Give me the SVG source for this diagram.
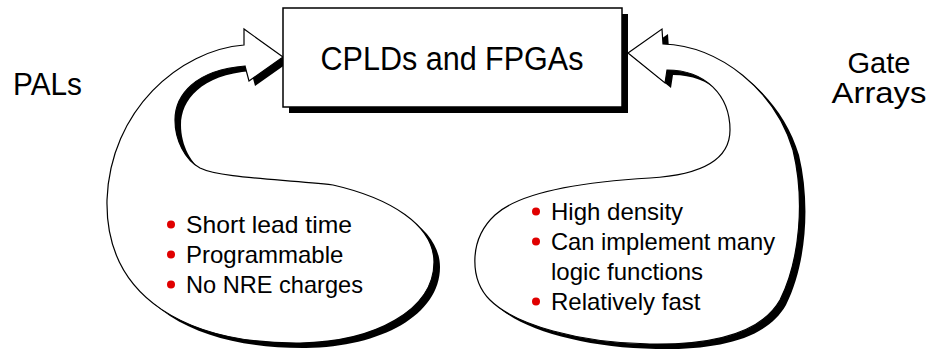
<svg xmlns="http://www.w3.org/2000/svg" width="928" height="351" viewBox="0 0 928 351">
<style>
  .lbl { font-family: "Liberation Sans", Arial, sans-serif; fill: #000; }
  .bul { font-family: "Liberation Sans", Arial, sans-serif; font-size: 24px; fill: #000; }
  .dot { fill: #e00000; }
  .shadow { fill: #000; }
  .body { fill: #fff; stroke: #000; stroke-width: 1.2; stroke-linejoin: miter; }
  .box { fill: #fff; stroke: #000; stroke-width: 1.5; }
</style>
<defs>
  <path id="leftArrow" d="M283,57 L244,29 L244,45 C180,50 110,110 107,200 C105,300 190,344 300,343 C375,342 434,310 434,262 C434,225 390,198 333,185 C280,179 220,178 200,168 C185,160 175,140 175,120 C175,95 195,70 245,66 L249,81 Z"/>
  <path id="rightArrow" d="M628,53 L662,29 L663,44 C720,46 775,90 793,150 C805,200 800,260 780,300 C760,335 710,345 650,344 C580,343 515,325 490,300 C470,280 468,240 495,215 C520,192 580,182 650,178 C700,175 730,160 730,130 C730,95 705,70 667,70 L665,83 Z"/>
</defs>
<rect width="928" height="351" fill="#fff"/>
<g id="connectors">
  <g id="arrow-pals">
    <use href="#leftArrow" class="shadow" transform="translate(6,5)"/>
    <use href="#leftArrow" class="body"/>
  </g>
  <g id="arrow-gate-arrays">
    <use href="#rightArrow" class="shadow" transform="translate(6,5)"/>
    <use href="#rightArrow" class="body"/>
  </g>
</g>
<g id="node-cpld">
  <rect x="289" y="14" width="339" height="99" class="shadow"/>
  <rect x="283" y="8" width="339" height="99" class="box"/>
  <text x="452" y="70" class="lbl" font-size="34" text-anchor="middle" textLength="263" lengthAdjust="spacingAndGlyphs">CPLDs and FPGAs</text>
</g>
<g id="node-pals">
  <text x="13" y="95" class="lbl" font-size="31" textLength="69" lengthAdjust="spacingAndGlyphs">PALs</text>
</g>
<g id="node-gate-arrays">
  <text x="879" y="73" class="lbl" font-size="29" text-anchor="middle" textLength="63" lengthAdjust="spacingAndGlyphs">Gate</text>
  <text x="879" y="103" class="lbl" font-size="29" text-anchor="middle" textLength="95" lengthAdjust="spacingAndGlyphs">Arrays</text>
</g>
<g id="node-pals-features">
  <circle cx="171" cy="224.5" r="4" class="dot"/>
  <text x="186" y="233" class="bul" textLength="166" lengthAdjust="spacingAndGlyphs">Short lead time</text>
  <circle cx="171" cy="254.5" r="4" class="dot"/>
  <text x="186" y="263" class="bul">Programmable</text>
  <circle cx="171" cy="284.5" r="4" class="dot"/>
  <text x="186" y="293" class="bul" textLength="177" lengthAdjust="spacingAndGlyphs">No NRE charges</text>
</g>
<g id="node-gate-features">
  <circle cx="536" cy="211.5" r="4" class="dot"/>
  <text x="551" y="220" class="bul">High density</text>
  <circle cx="536" cy="241.5" r="4" class="dot"/>
  <text x="551" y="250" class="bul" textLength="224" lengthAdjust="spacingAndGlyphs">Can implement many</text>
  <text x="551" y="280" class="bul">logic functions</text>
  <circle cx="536" cy="301.5" r="4" class="dot"/>
  <text x="551" y="310" class="bul">Relatively fast</text>
</g>
</svg>
